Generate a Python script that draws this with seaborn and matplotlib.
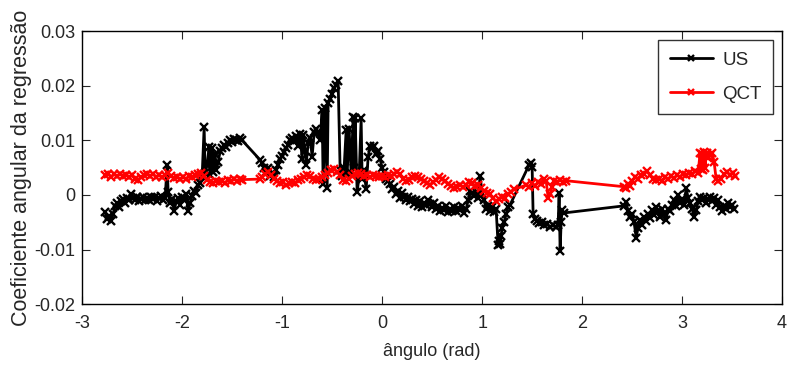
import numpy as np
import pandas as pd
import seaborn as sns
import matplotlib.pyplot as plt

# US series: angle (rad) and slope (x 1e-3)
us_x = [-2.77, -2.75, -2.73, -2.71, -2.69, -2.67, -2.65, -2.63, -2.61, -2.59,
        -2.57, -2.55, -2.53, -2.51, -2.49, -2.47, -2.45, -2.43, -2.41, -2.39,
        -2.37, -2.35, -2.33, -2.31, -2.29, -2.27, -2.25, -2.23, -2.21, -2.19,
        -2.17, -2.15, -2.14, -2.12, -2.10, -2.08, -2.06, -2.04, -2.02, -2.00,
        -1.98, -1.96, -1.94, -1.92, -1.90, -1.88, -1.86, -1.84, -1.82, -1.80,
        -1.78, -1.77, -1.75, -1.73, -1.72, -1.70, -1.69, -1.67, -1.66, -1.64,
        -1.62, -1.60, -1.58, -1.56, -1.54, -1.52, -1.50, -1.48, -1.46, -1.44,
        -1.42, -1.40,
        -1.22, -1.20, -1.18, -1.16, -1.14, -1.12, -1.10, -1.08, -1.06, -1.04,
        -1.02, -1.00, -0.98, -0.96, -0.94, -0.92, -0.90, -0.88, -0.86, -0.84,
        -0.82, -0.80, -0.79, -0.77, -0.76, -0.74, -0.72, -0.70, -0.68, -0.66,
        -0.64, -0.62, -0.60, -0.59, -0.57, -0.55, -0.54, -0.52, -0.50, -0.48,
        -0.46, -0.44, -0.42, -0.40, -0.38, -0.36, -0.35, -0.33, -0.31, -0.29,
        -0.28, -0.27, -0.25, -0.23, -0.21, -0.20, -0.18, -0.16, -0.14, -0.12,
        -0.10, -0.08, -0.06, -0.04, -0.02, 0.00, 0.02, 0.04, 0.06, 0.08,
        0.10, 0.12, 0.14, 0.16, 0.18, 0.20, 0.22, 0.24, 0.26, 0.28,
        0.30, 0.32, 0.34, 0.36, 0.38, 0.40, 0.42, 0.44, 0.46, 0.48,
        0.50, 0.52, 0.54, 0.56, 0.58, 0.60, 0.62, 0.64, 0.66, 0.68,
        0.70, 0.72, 0.74, 0.76, 0.78, 0.80, 0.82, 0.84, 0.86, 0.88,
        0.90, 0.92, 0.94, 0.96, 0.98, 1.00, 1.02, 1.04, 1.06, 1.08,
        1.10, 1.12, 1.14, 1.16, 1.17, 1.18, 1.19, 1.20, 1.22, 1.24,
        1.26, 1.28,
        1.47, 1.49, 1.50, 1.51, 1.53, 1.55, 1.57, 1.60, 1.62, 1.65,
        1.68, 1.71, 1.74, 1.76, 1.77, 1.78, 1.79, 1.80, 1.82,
        2.42, 2.44, 2.46, 2.48, 2.50, 2.52, 2.54, 2.56, 2.58, 2.60,
        2.62, 2.64, 2.66, 2.68, 2.70, 2.72, 2.74, 2.76, 2.78, 2.80,
        2.82, 2.84, 2.86, 2.88, 2.90, 2.92, 2.94, 2.96, 2.98, 3.00,
        3.02, 3.04, 3.06, 3.08, 3.10, 3.12, 3.14, 3.16, 3.18, 3.20,
        3.22, 3.24, 3.26, 3.28, 3.30, 3.32, 3.34, 3.36, 3.38, 3.40,
        3.42, 3.44, 3.46, 3.48, 3.50, 3.52]
us_y = [-3.2, -4.5, -3.8, -4.8, -3.5, -2.0, -1.5, -2.2, -1.2, -0.8,
        -1.5, -0.5, -0.9, 0.2, -0.6, -1.0, -0.4, -1.2, -0.7, -0.3,
        -1.0, -0.5, -0.9, -0.3, -0.8, -0.4, -1.1, -0.6, -0.2, -0.9,
        -0.5, 5.5, 0.5, -1.5, -0.8, -3.0, -1.2, -0.5, -1.8, -0.3,
        -1.0, 0.2, -3.0, -1.4, -0.2, 0.8, 0.3, 1.8, 2.2, 3.5,
        12.4, 4.0, 5.5, 8.8, 3.6, 8.5, 4.2, 7.5, 4.5, 6.0,
        8.0, 8.5, 9.2, 8.8, 9.5, 10.0, 9.6, 10.3, 10.0, 9.8,
        10.4, 10.0,
        6.4, 5.8, 5.0, 4.2, 5.0, 3.5, 4.0, 3.2, 4.5, 5.5,
        6.5, 7.2, 7.8, 8.5, 9.2, 10.0, 10.5, 9.8, 10.8, 9.0,
        11.2, 6.5, 11.0, 8.0, 5.5, 9.5, 10.5, 7.0, 11.5, 12.0,
        11.5, 10.0, 15.5, 2.0, 16.0, 1.3, 16.8, 17.5, 18.5, 19.5,
        20.2, 20.8, 4.5, 3.5, 5.0, 11.8, 3.8, 12.0, 4.0, 14.2,
        5.0, 14.0, 0.5, 3.5, 14.0, 3.0, 4.5, 1.0, 7.0, 9.0,
        8.5, 9.0, 7.5, 8.0, 6.5, 5.0, 4.2, 3.0, 2.5, 2.0,
        1.0, 1.5, 0.2, 0.8, -0.5, 0.3, -0.4, -1.0, -0.3, -1.2,
        -0.8, -1.6, -0.9, -2.0, -1.2, -2.3, -1.5, -1.9, -1.0, -1.6,
        -2.2, -1.4, -2.6, -2.0, -3.0, -2.4, -2.8, -2.0, -3.1, -2.5,
        -2.9, -2.2, -3.0, -2.4, -2.8, -2.0, -3.4, -2.6, -1.0, 0.8,
        0.3, -0.2, 0.6, -0.5, 3.5, 0.2, -1.0, -2.5, -2.0, -3.0,
        -2.2, -3.2, -2.6, -9.2, -8.5, -9.0, -7.5, -6.0, -5.0, -3.5,
        -2.2, -1.8,
        5.5, 5.8, 5.2, -3.5, -4.5, -4.8, -5.2, -5.0, -5.5, -5.4,
        -5.8, -5.6, -5.9, -5.5, 0.3, -10.3, -5.0, -2.8, -3.3,
        -2.0, -1.3, -3.0, -4.0, -3.5, -5.0, -7.8, -6.0, -4.6, -5.5,
        -4.0, -4.8, -3.5, -4.2, -2.8, -3.6, -2.2, -3.0, -4.0, -2.6,
        -3.5, -4.6, -2.5, -3.0, -1.8, -1.0, -2.0, 0.0, -1.5, -0.8,
        -1.8, 1.2, -0.5, -1.5, -2.5, -4.0, -2.8, -1.2, -0.4, -1.0,
        -0.5, -1.5, -0.7, -0.3, -1.2, -0.5, -1.8, -1.0, -2.2, -3.0,
        -2.0, -2.5, -1.5, -2.2, -1.8, -2.5]

# QCT series: angle (rad) and slope (x 1e-3)
qct_x = [-2.77, -2.74, -2.71, -2.68, -2.65, -2.62, -2.59, -2.56, -2.53, -2.50,
         -2.47, -2.44, -2.41, -2.38, -2.35, -2.32, -2.29, -2.26, -2.23, -2.20,
         -2.17, -2.14, -2.11, -2.08, -2.05, -2.02, -1.99, -1.96, -1.93, -1.90,
         -1.87, -1.84, -1.81, -1.78, -1.75, -1.72, -1.69, -1.66, -1.63, -1.60,
         -1.57, -1.54, -1.51, -1.48, -1.45, -1.42, -1.40,
         -1.22, -1.20, -1.17, -1.14, -1.11, -1.08, -1.05, -1.02, -0.99, -0.96,
         -0.93, -0.90, -0.87, -0.84, -0.81, -0.78, -0.75, -0.72, -0.69, -0.66,
         -0.63, -0.60, -0.57, -0.54, -0.51, -0.48, -0.45, -0.42, -0.39, -0.36,
         -0.33, -0.30, -0.27, -0.24, -0.21, -0.18, -0.15, -0.12, -0.09, -0.06,
         -0.03, 0.00, 0.03, 0.06, 0.09, 0.12, 0.15, 0.18, 0.21, 0.24,
         0.27, 0.30, 0.33, 0.36, 0.39, 0.42, 0.45, 0.48, 0.51, 0.54,
         0.57, 0.60, 0.63, 0.66, 0.69, 0.72, 0.75, 0.78, 0.81, 0.84,
         0.87, 0.90, 0.93, 0.96, 0.99, 1.02, 1.05, 1.08, 1.11, 1.14,
         1.17, 1.20, 1.23, 1.26, 1.29, 1.32,
         1.44, 1.47, 1.50, 1.53, 1.56, 1.59, 1.62, 1.64, 1.66, 1.68,
         1.70, 1.72, 1.75, 1.78, 1.81, 1.84,
         2.42, 2.44, 2.46, 2.48, 2.50, 2.53, 2.56, 2.59, 2.62, 2.65,
         2.68, 2.71, 2.74, 2.77, 2.80, 2.83, 2.86, 2.89, 2.92, 2.95,
         2.98, 3.01, 3.04, 3.07, 3.10, 3.13, 3.16, 3.18, 3.19, 3.20,
         3.21, 3.22, 3.23, 3.24, 3.25, 3.26, 3.28, 3.30, 3.32, 3.34,
         3.36, 3.39, 3.42, 3.45, 3.48, 3.51, 3.53]
qct_y = [3.6, 3.9, 3.3, 3.8, 3.4, 3.9, 3.5, 3.7, 3.3, 3.6,
         3.0, 2.8, 3.2, 3.6, 3.9, 3.5, 3.8, 3.3, 3.6, 3.2,
         3.7, 4.0, 3.4, 3.1, 3.3, 2.9, 3.2, 3.0, 3.4, 3.2,
         3.6, 3.9, 4.0, 3.5, 2.8, 2.4, 2.2, 2.6, 2.3, 2.5,
         2.2, 2.8, 2.5, 2.9, 2.6, 3.0, 2.8,
         2.9, 3.3, 3.9, 4.2, 3.6, 3.0, 2.5, 2.2, 2.3, 1.8,
         2.1, 2.4, 2.2, 2.7, 3.0, 3.3, 3.6, 3.4, 3.0, 2.7,
         2.9, 3.3, 3.7, 4.1, 4.5, 4.8, 4.2, 3.6, 2.8, 2.6,
         3.0, 3.5, 3.9, 4.1, 3.8, 3.5, 3.7, 3.3, 3.6, 3.4,
         3.2, 3.5, 3.3, 3.7, 3.4, 3.9, 4.2, 3.8, 3.0, 2.5,
         2.8, 3.2, 3.5, 3.3, 3.0, 2.6, 2.2, 1.9, 2.3, 2.8,
         3.2, 3.0, 2.6, 2.0, 1.6, 1.3, 1.5, 1.8, 1.4, 1.9,
         2.4, 2.2, 1.6, 1.9, 1.2, 0.8, 0.3, 0.1, -0.6, -1.2,
         -0.8, -0.3, -0.5, 0.2, 0.6, 1.0,
         1.8, 1.5, 2.1, 1.7, 2.3, 2.0, 2.9, 2.6, -0.5, 0.2,
         1.5, 2.5, 2.3, 2.8, 2.4, 2.6,
         1.5, 1.2, 2.0, 1.6, 2.6, 3.2, 3.0, 3.6, 3.9, 4.3,
         3.6, 3.0, 2.7, 3.0, 2.6, 3.2, 2.9, 3.4, 3.1, 3.6,
         3.3, 3.9, 3.6, 4.1, 3.8, 4.3, 4.0, 7.7, 4.8, 7.5,
         4.5, 7.8, 5.0, 7.2, 7.6, 6.8, 7.4, 7.6, 6.0, 3.0,
         2.6, 3.0, 3.8, 4.2, 3.6, 4.0, 3.5]

x_ticks = [-3, -2, -1, 0, 1, 2, 3, 4]
y_ticks = [-0.02, -0.01, 0, 0.01, 0.02, 0.03]
y_tick_labels = ['-0.02', '-0.01', '0', '0.01', '0.02', '0.03']

us = pd.DataFrame({'x': us_x, 'y': np.array(us_y) * 1e-3})
qct = pd.DataFrame({'x': qct_x, 'y': np.array(qct_y) * 1e-3})

sns.set_style('ticks')
plt.rcParams['font.family'] = ['Liberation Sans', 'DejaVu Sans']

fig = plt.figure(figsize=(7.9, 3.7), dpi=100)
ax = fig.add_axes([0.104, 0.178, 0.886, 0.738])

sns.lineplot(data=us, x='x', y='y', ax=ax, color='black', marker='x',
             markersize=5.5, markeredgewidth=1.7, markeredgecolor='black',
             linewidth=2, estimator=None, sort=False, label='US')
sns.lineplot(data=qct, x='x', y='y', ax=ax, color='red', marker='x',
             markersize=5.5, markeredgewidth=1.7, markeredgecolor='red',
             linewidth=2, estimator=None, sort=False, label='QCT')

ax.set_xlim(-3, 4)
ax.set_ylim(-0.02, 0.03)
ax.set_xticks(x_ticks)
ax.set_xticklabels([str(t) for t in x_ticks])
ax.set_yticks(y_ticks)
ax.set_yticklabels(y_tick_labels)
ax.tick_params(direction='in', top=True, right=True, length=5.8, width=0.8,
               labelsize=13, pad=5)
ax.tick_params(axis='x', pad=8)
for s in ax.spines.values():
    s.set_visible(True)
    s.set_color('black')
    s.set_linewidth(1)

ax.set_xlabel('ângulo (rad)', fontsize=13, labelpad=8)
ax.set_ylabel('Coeficiente angular da regressão', fontsize=15.5, labelpad=1.5)

leg = ax.legend(loc='upper right', fontsize=13.5, frameon=True, fancybox=False,
                edgecolor='black', borderaxespad=0.5, handlelength=2.3,
                handletextpad=0.5, labelspacing=0.9, borderpad=0.6,
                markerscale=0.8)
leg.get_frame().set_linewidth(1)

fig.savefig('out.png', dpi=100)
